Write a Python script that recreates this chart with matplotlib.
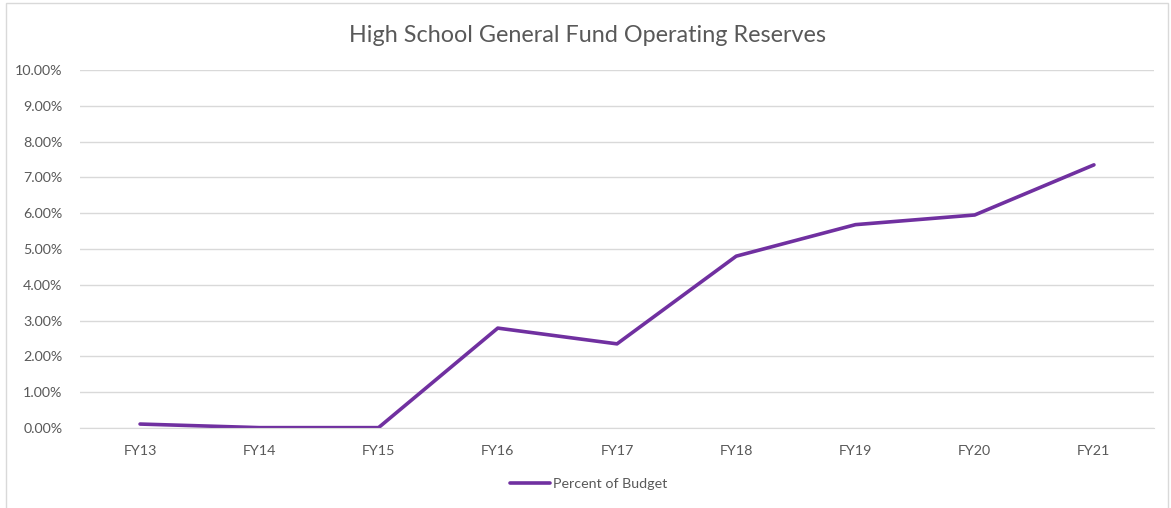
import numpy as np
import matplotlib.pyplot as plt
from matplotlib.patches import Rectangle
from matplotlib.ticker import FuncFormatter

# data
years = ['FY13', 'FY14', 'FY15', 'FY16', 'FY17', 'FY18', 'FY19', 'FY20', 'FY21']
pct_budget = [0.0011, 0.0001, 0.0001, 0.0279, 0.0235, 0.0480, 0.0568, 0.0595, 0.0735]
y_ticks = [i / 100 for i in range(0, 11)]

plt.rcParams['font.family'] = ['Lato', 'DejaVu Sans']
txt_col = '#595959'
grid_col = '#d9d9d9'

fig = plt.figure(figsize=(11.71, 5.08), dpi=100)
fig.patches.append(Rectangle((6 / 1171, -0.01), 1162 / 1171, 1 - 3 / 508 + 0.01,
                             transform=fig.transFigure, fill=False,
                             edgecolor='#d9d9d9', linewidth=1))
ax = fig.add_axes([0.0687, 0.1575, 0.9164, 0.7047])

x = np.arange(len(years))
ax.plot(x, pct_budget, color='#7030a0', linewidth=2.6, label='Percent of Budget',
        solid_capstyle='round')

ax.set_xlim(-0.5, len(years) - 0.5)
ax.set_ylim(0, 0.10)
ax.set_yticks(y_ticks)
ax.yaxis.set_major_formatter(FuncFormatter(lambda v, p: '%.2f%%' % (v * 100)))
ax.set_xticks(x)
ax.set_xticklabels(years)
ax.grid(axis='y', color=grid_col, linewidth=1)
ax.set_axisbelow(True)
for s in ['top', 'right', 'left']:
    ax.spines[s].set_visible(False)
ax.spines['bottom'].set_color(grid_col)
ax.tick_params(length=0, colors=txt_col, labelsize=10.3)
ax.tick_params(axis='x', pad=12)
ax.tick_params(axis='y', pad=13)

fig.text(0.502, 0.93, 'High School General Fund Operating Reserves', ha='center',
         va='center', fontsize=16.8, color=txt_col)
fig.legend(loc='center', bbox_to_anchor=(0.503, 0.047), frameon=False,
           fontsize=10.3, labelcolor=txt_col, handlelength=2.8, handletextpad=0.2)

fig.savefig('out.png', dpi=100)
